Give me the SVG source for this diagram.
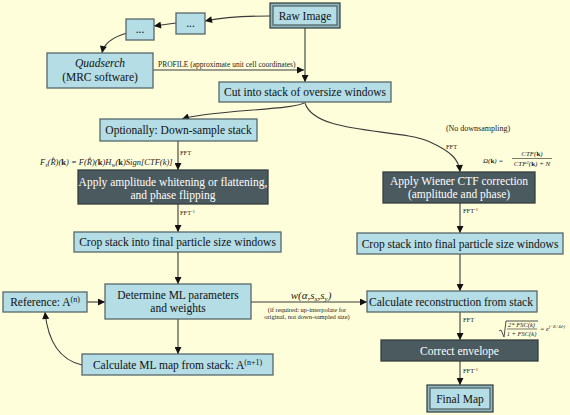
<svg xmlns="http://www.w3.org/2000/svg" width="570" height="415" viewBox="0 0 570 415">
<defs>
<marker id="ah" viewBox="0 0 10 10" refX="10" refY="5" markerWidth="8" markerHeight="7" orient="auto" markerUnits="userSpaceOnUse">
<path d="M0,0 L10,5 L0,10 z" fill="#111"/>
</marker>
</defs>
<style>
.n{fill:#B4DDE5;stroke:#56686A;stroke-width:1.3}
.d{fill:#4B5A5E;stroke:#34403F;stroke-width:1.3}
.f{fill:#8FB8C0;stroke:#2E3A3B;stroke-width:1.2}
.t{font-family:"Liberation Serif","Times New Roman",serif;font-size:11.5px;fill:#111;text-anchor:middle}
.w{fill:#FFFFFF}
.s{font-family:"Liberation Serif","Times New Roman",serif;font-size:6.5px;fill:#222}
.c{fill:none;stroke:#3A3A3A;stroke-width:1.1;marker-end:url(#ah)}
.p{fill:none;stroke:#3A3A3A;stroke-width:0.9}
.m{font-family:"Liberation Serif","Times New Roman",serif;font-style:italic;fill:#222}
.b{font-weight:bold;font-style:normal}
</style>
<rect x="0" y="0" width="570" height="415" fill="#FEFEDB"/>

<g id="connectors">
<path class="c" d="M270,16 C245,16 225,17 205,21"/>
<path class="c" d="M176,23 L154,26"/>
<path class="c" d="M127,33 C113,37 104,43 102,53"/>
<path class="c" d="M153,70 L304,70"/>
<path class="c" d="M305,28 L305,82"/>
<path class="c" d="M305,102 C300,110 210,110 182,119"/>
<path class="c" d="M305,103 C315,135 400,128 430,142 C452,152 459,160 460,172"/>
<path class="c" d="M178,141 L178,170"/>
<path class="c" d="M178,204 L178,232"/>
<path class="c" d="M178,252 L178,284"/>
<path class="c" d="M87,302 L105,302"/>
<path class="c" d="M178,319 L178,354"/>
<path class="c" d="M82,365 C60,360 48,342 45,312"/>
<path class="c" d="M251,302 L367,302"/>
<path class="c" d="M460,203 L460,233"/>
<path class="c" d="M460,254 L460,291"/>
<path class="c" d="M460,312 L460,340"/>
<path class="c" d="M460,361 L460,385"/>
<text class="s" x="158" y="67" style="font-size:7.5px">PROFILE (approximate unit cell coordinates)</text>
<text class="s" x="478" y="131" style="font-size:8px" text-anchor="middle">(No downsampling)</text>
<text class="s" x="180" y="155">FFT</text>
<text class="s" x="180" y="215">FFT<tspan font-size="4.5" dy="-2.5">-1</tspan></text>
<text class="s" x="446" y="149">FFT</text>
<text class="s" x="463" y="213">FFT<tspan font-size="4.5" dy="-2.5">-1</tspan></text>
<text class="s" x="463" y="322">FFT</text>
<text class="s" x="463" y="373">FFT<tspan font-size="4.5" dy="-2.5">-1</tspan></text>
<text class="m" x="40" y="165" font-size="8.5">F<tspan font-size="6" dy="1.5">s</tspan><tspan dy="-1.5">(R̂)(</tspan><tspan class="b">k</tspan>) = F(R̂)(<tspan class="b">k</tspan>)H<tspan font-size="6" dy="1.5">w</tspan><tspan dy="-1.5">(</tspan><tspan class="b">k</tspan>)Sign[CTF(k)]</text>
<text class="m" x="483" y="163" font-size="7">Ω(<tspan class="b">k</tspan>) =</text>
<text class="m" x="532" y="156" font-size="7" text-anchor="middle">CTF(<tspan class="b">k</tspan>)</text>
<line x1="512" y1="158.5" x2="552" y2="158.5" stroke="#222" stroke-width="0.6"/>
<text class="m" x="532" y="166" font-size="7" text-anchor="middle">CTF<tspan font-size="4.5" dy="-2.5">2</tspan><tspan dy="2.5">(</tspan><tspan class="b">k</tspan>) + N</text>
<path class="p" d="M499,331 L501,330 L504,337 L506,321 L538,321"/>
<text class="m" x="521.5" y="327" font-size="6.5" text-anchor="middle">2* FSC(k)</text>
<line x1="507" y1="329" x2="537" y2="329" stroke="#222" stroke-width="0.6"/>
<text class="m" x="521.5" y="336" font-size="6.5" text-anchor="middle">1 + FSC(k)</text>
<text class="m" x="540" y="331" font-size="6.5">= e<tspan font-size="4" dy="-3">(−B / 4d²)</tspan></text>
<text class="m" x="311" y="299" font-size="11" text-anchor="middle">w(α,s<tspan font-size="7" dy="2">x</tspan><tspan dy="-2">,s</tspan><tspan font-size="7" dy="2">y</tspan><tspan dy="-2">)</tspan></text>
<text class="s" x="307" y="312" text-anchor="middle">(if required: up-interpolate for</text>
<text class="s" x="307" y="319" text-anchor="middle">original, not down-sampled size)</text>
</g>

<g id="raw-image">
<rect class="f" x="270" y="3" width="70" height="25"/>
<rect class="n" x="273" y="6" width="64" height="19" stroke="#2E3A3B"/>
<text class="t" x="305" y="20">Raw Image</text>
</g>
<g id="dots1">
<rect class="n" x="176" y="13" width="29" height="21"/>
<text class="t" x="190.5" y="27">...</text>
</g>
<g id="dots2">
<rect class="n" x="126" y="19" width="28" height="21"/>
<text class="t" x="140" y="33">...</text>
</g>
<g id="quadserch">
<rect class="n" x="47" y="53" width="106" height="35"/>
<text class="t" x="100" y="67" font-style="italic">Quadserch</text>
<text class="t" x="100" y="81">(MRC software)</text>
</g>
<g id="cut">
<rect class="n" x="219" y="82" width="172" height="20"/>
<text class="t" x="305" y="96">Cut into stack of oversize windows</text>
</g>
<g id="downsample">
<rect class="n" x="100" y="119" width="157" height="22"/>
<text class="t" x="178.5" y="134">Optionally: Down-sample stack</text>
</g>
<g id="whitening">
<rect class="d" x="78" y="170" width="190" height="34"/>
<text class="t w" x="173" y="185.5">Apply amplitude whitening or flattening,</text>
<text class="t w" x="173" y="198.5">and phase flipping</text>
</g>
<g id="wiener">
<rect class="d" x="383" y="172" width="152" height="31"/>
<text class="t w" x="459" y="185">Apply Wiener CTF correction</text>
<text class="t w" x="459" y="197.5">(amplitude and phase)</text>
</g>
<g id="crop-left">
<rect class="n" x="74" y="232" width="207" height="20"/>
<text class="t" x="177.5" y="246">Crop stack into final particle size windows</text>
</g>
<g id="crop-right">
<rect class="n" x="357" y="233" width="206" height="21"/>
<text class="t" x="460" y="247.5">Crop stack into final particle size windows</text>
</g>
<g id="determine">
<rect class="n" x="105" y="284" width="146" height="35"/>
<text class="t" x="178" y="299">Determine ML parameters</text>
<text class="t" x="178" y="312">and weights</text>
</g>
<g id="reference">
<rect class="n" x="3" y="292" width="84" height="20"/>
<text class="t" x="45" y="306">Reference: A<tspan font-size="8" dy="-4">(n)</tspan></text>
</g>
<g id="calc-ml">
<rect class="n" x="82" y="354" width="191" height="21"/>
<text class="t" x="177.5" y="368.5">Calculate ML map from stack: A<tspan font-size="8" dy="-4">(n+1)</tspan></text>
</g>
<g id="reconstruction">
<rect class="n" x="367" y="291" width="170" height="21"/>
<text class="t" x="451" y="305.5">Calculate reconstruction from stack</text>
</g>
<g id="envelope">
<rect class="d" x="381" y="340" width="157" height="21"/>
<text class="t w" x="459.5" y="354.5">Correct envelope</text>
</g>
<g id="final-map">
<rect class="f" x="427" y="385" width="66" height="27"/>
<rect class="n" x="430" y="388" width="60" height="21" stroke="#2E3A3B"/>
<text class="t" x="460" y="402.5">Final Map</text>
</g>
</svg>
